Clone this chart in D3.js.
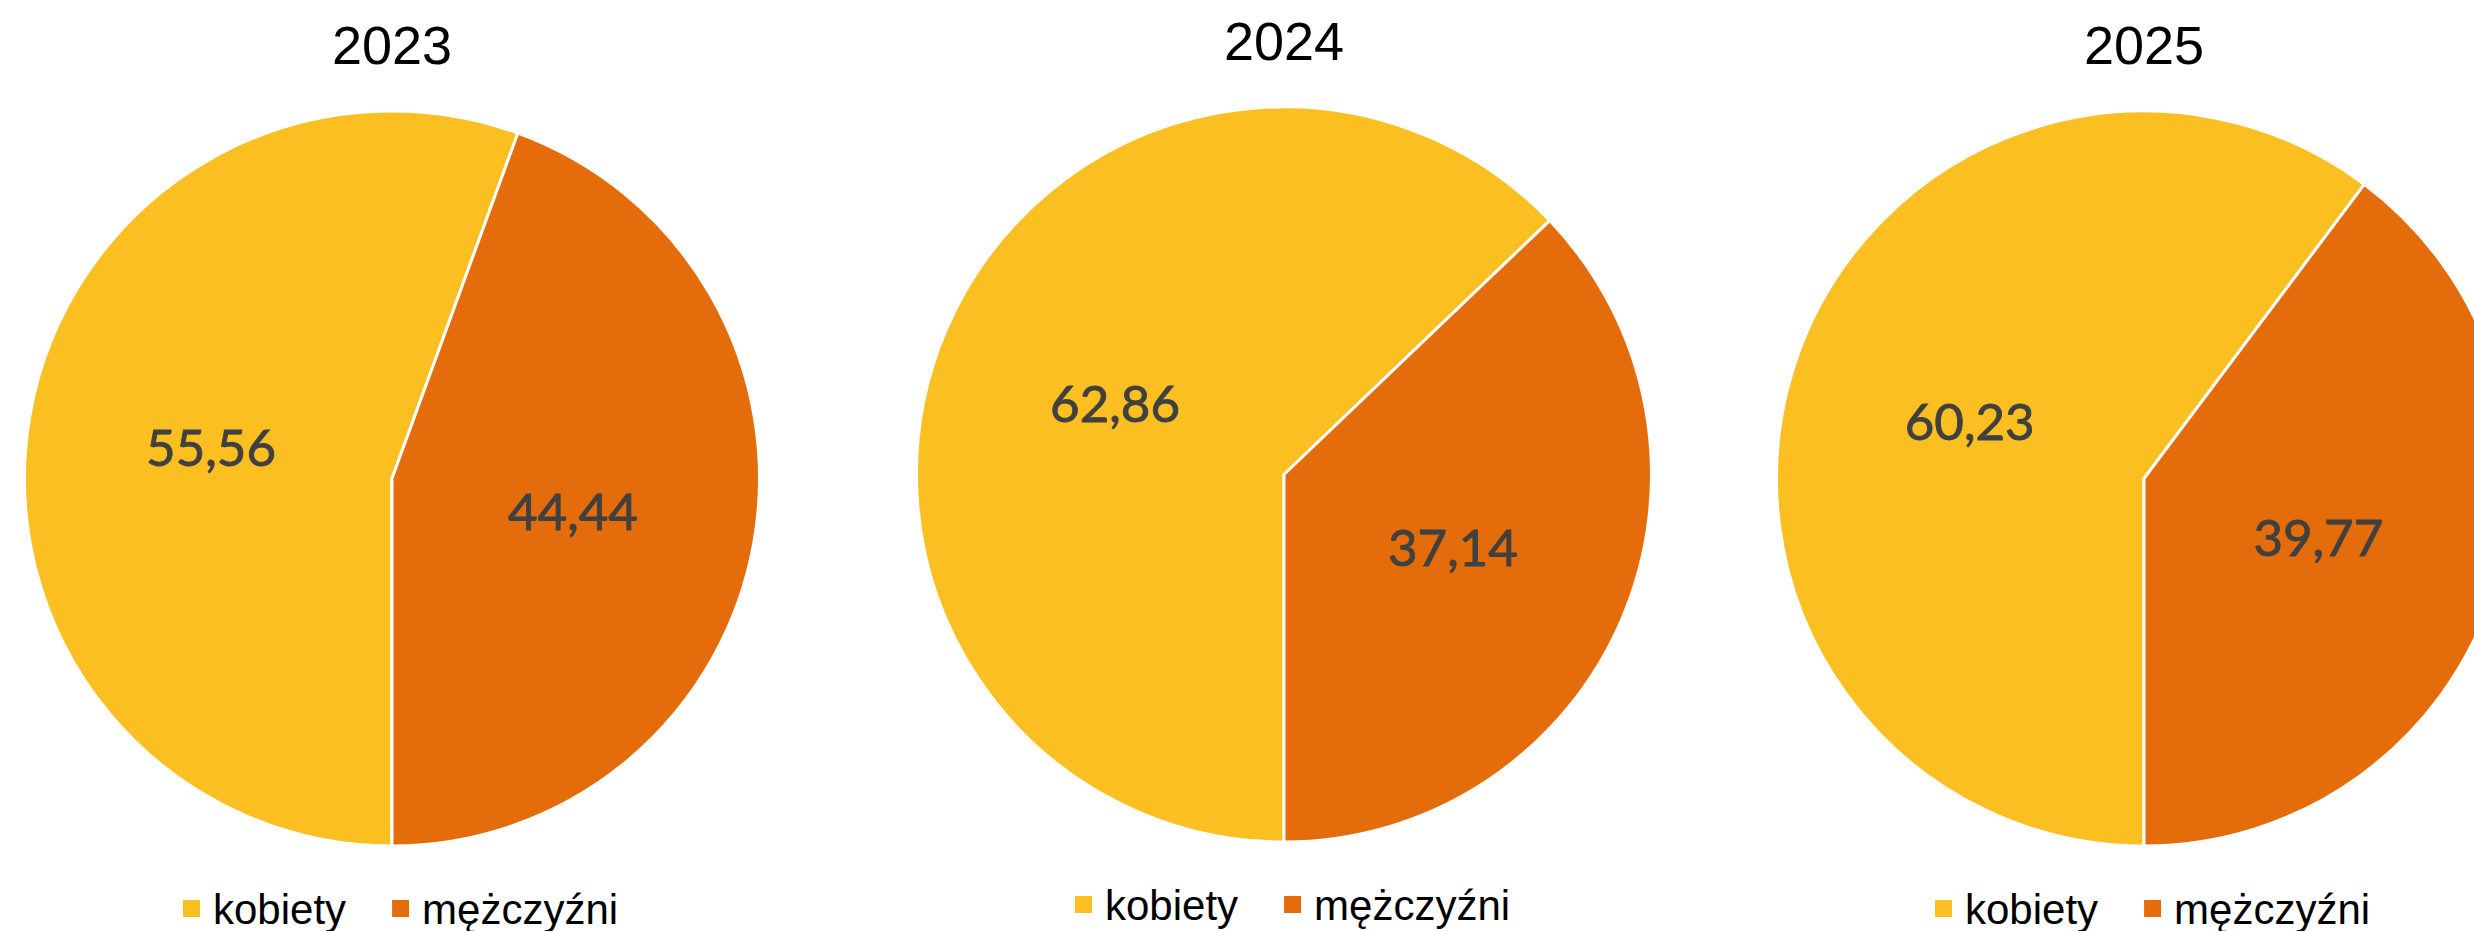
<!DOCTYPE html>
<html lang="pl">
<head>
<meta charset="utf-8">
<script src="https://cdn.jsdelivr.net/npm/d3@7"></script>
<style>
  body { margin: 0; background: #fff; }
  svg { display: block; }
</style>
</head>
<body>
<div id="wykres"></div>
<script>
// dane
const lata = ["2023", "2024", "2025"];
const kategorie = ["kobiety", "mężczyźni"];
const kobiety = [55.56, 62.86, 60.23];
const mezczyzni = [44.44, 37.14, 39.77];

// uklad paneli
const width = 2474;
const height = 931;
const promien = 367.5;
const srodkiX = [392, 1284, 2144];
const srodkiY = [478.5, 474.5, 478.5];

const kolor = d3.scaleOrdinal()
    .domain(kategorie)
    .range(["#FBBF21", "#E46C0A"]);

// format z przecinkiem
const pl = d3.formatLocale({ decimal: ",", thousands: " ", grouping: [3], currency: ["", " zł"] });
const fmt = pl.format(".2f");

const svg = d3.select("#wykres")
    .append("svg")
        .attr("width", width)
        .attr("height", height);

// kobiety zaczynaja sie od dolu (6 godzina), zgodnie z ruchem wskazowek
const pie = d3.pie()
    .sort(null)
    .value(d => d.wartosc)
    .startAngle(Math.PI)
    .endAngle(3 * Math.PI);

const arc = d3.arc()
    .innerRadius(0)
    .outerRadius(promien);

lata.forEach(function(rok, i) {
    const dane = [
        { kat: kategorie[0], wartosc: kobiety[i] },
        { kat: kategorie[1], wartosc: mezczyzni[i] }
    ];

    const g = svg.append("g")
        .attr("transform", `translate(${srodkiX[i]}, ${srodkiY[i]})`);

    // tytul
    g.append("text")
        .attr("x", 0)
        .attr("y", -promien - 47)
        .attr("text-anchor", "middle")
        .style("font-family", "'Liberation Sans', Arial, sans-serif")
        .style("font-size", "54px")
        .style("fill", "#000")
        .text(rok);

    const luki = pie(dane);

    g.selectAll(".wycinek")
        .data(luki)
        .enter()
        .append("path")
            .attr("class", "wycinek")
            .attr("d", arc)
            .attr("fill", d => kolor(d.data.kat))
            .attr("stroke", "#fff")
            .attr("stroke-width", 3)
            .attr("stroke-linejoin", "round");

    // etykiety wartosci (troche pogrubione obrysem)
    g.selectAll(".etykieta")
        .data(luki)
        .enter()
        .append("text")
            .attr("class", "etykieta")
            .attr("x", d => arc.centroid(d)[0])
            .attr("y", d => arc.centroid(d)[1])
            .attr("text-anchor", "middle")
            .attr("dominant-baseline", "central")
            .style("font-family", "Lato, 'Noto Sans', sans-serif")
            .style("font-size", "51px")
            .style("fill", "#404040")
            .style("stroke", "#404040")
            .style("stroke-width", "0.9px")
            .text(d => fmt(d.data.wartosc));

    // legenda
    const leg = g.append("g")
        .attr("transform", `translate(-209, ${promien + 78})`);

    let xPoz = 0;
    kategorie.forEach(function(kat) {
        leg.append("rect")
            .attr("x", xPoz)
            .attr("y", -24)
            .attr("width", 17)
            .attr("height", 17)
            .attr("fill", kolor(kat));
        const t = leg.append("text")
            .attr("x", xPoz + 30)
            .attr("y", 0)
            .style("font-family", "'Liberation Sans', Arial, sans-serif")
            .style("font-size", "42px")
            .style("fill", "#000")
            .text(kat);
        xPoz += 30 + t.node().getComputedTextLength() + 46;
    });
});
</script>
</body>
</html>
